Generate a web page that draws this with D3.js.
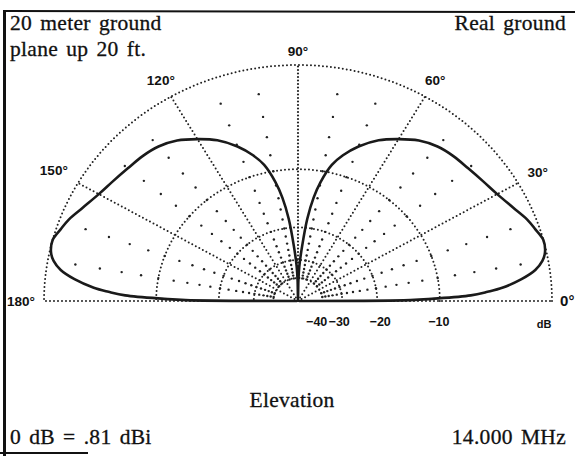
<!DOCTYPE html>
<html lang="en">
<head>
    <meta charset="UTF-8">
    <title>Elevation pattern</title>
    <script src="https://d3js.org/d3.v7.min.js"></script>
    <style>
        body { margin: 0; background: #fff; }
        text { fill: #111; }
    </style>
</head>
<body>
    <svg></svg>
    <script>
        // elevation angle (deg) and relative gain (dB)
        const elevAngles = [0, 0.5, 1, 2, 3, 4, 6, 8, 10, 12, 15, 18, 21, 25, 30, 35, 40, 45, 50, 55, 60, 65, 70, 74, 77, 80, 82, 84, 86, 88, 89, 90];
        const gainDb = [-99, -14, -11, -6.6, -5.0, -3.7, -2.1, -1.0, -0.4, -0.1, 0, -0.3, -0.6, -1.15, -1.7, -2.05, -2.3, -2.45, -2.7, -3.2, -4.0, -4.9, -6.2, -7.6, -9.0, -11.5, -14, -18, -25, -33, -42, -99];

        const ringDb = [0, -10, -20, -30, -40];
        const ringLabels = ["", "-10", "-20", "-30", "-40"];
        const spokeAngles = [0, 30, 60, 90, 120, 150, 180];
        const spokeLabels = ["0°", "30°", "60°", "90°", "120°", "150°", "180°"];

        const width = 575, height = 456;
        const cx = 298, cy = 301;
        const rx = 254, ry = 236;

        const svg = d3.select("svg")
            .attr("width", width)
            .attr("height", height)
            .style("font-family", "'Liberation Sans', Arial, sans-serif");

        // ARRL log scale: each 2 dB step shrinks radius by 0.89
        const logR = d3.scaleLinear().domain([-2, 0]).range([Math.log(0.89), 0]);
        const rad = db => Math.exp(logR(db));
        const x = d3.scaleLinear().domain([-1, 1]).range([cx - rx, cx + rx]);
        const y = d3.scaleLinear().domain([0, 1]).range([cy, cy - ry]);
        const pt = (deg, r) => {
            const a = deg * Math.PI / 180;
            return [x(r * Math.cos(a)), y(r * Math.sin(a))];
        };

        const grid = svg.append("g")
            .attr("fill", "none")
            .attr("stroke", "#222")
            .attr("stroke-linecap", "round");

        // rings
        const arcLine = d3.line();
        ringDb.forEach(db => {
            const r = rad(db);
            grid.append("path")
                .attr("d", arcLine(d3.range(0, 180.5, 1).map(a => pt(a, r))))
                .attr("stroke-width", 2)
                .attr("stroke-dasharray", "0 4");
        });

        // major spokes
        spokeAngles.forEach(a => {
            grid.append("path")
                .attr("d", arcLine([pt(a, 0), pt(a, 1)]))
                .attr("stroke-width", a === 90 ? 2.2 : 2)
                .attr("stroke-dasharray", a === 90 ? "0 3.5" : "0 4");
        });

        // sparse dots: 10 degree spokes x 2 dB steps
        const dotAngles = d3.range(10, 180, 10).filter(a => a % 30 !== 0);
        const dotDb = d3.range(-2, -41, -2);
        const dots = [];
        dotAngles.forEach(a => dotDb.forEach(db => dots.push(pt(a, rad(db)))));
        svg.append("g").selectAll("circle")
            .data(dots)
            .enter()
            .append("circle")
            .attr("cx", d => d[0])
            .attr("cy", d => d[1])
            .attr("r", 1.2)
            .attr("fill", "#222");

        // pattern, mirrored for the other side
        const right = elevAngles.map((a, i) => pt(a, rad(gainDb[i])));
        const left = elevAngles.map((a, i) => pt(180 - a, rad(gainDb[i]))).reverse();
        svg.append("path")
            .attr("d", d3.line().curve(d3.curveCatmullRom)(right.concat(left.slice(1))))
            .attr("fill", "none")
            .attr("stroke", "#1a1a1a")
            .attr("stroke-width", 2.6)
            .attr("stroke-linejoin", "round");

        // angle labels
        const labelR = [1.02, 1.09, 1.08, 1.06, 1.08, 1.11, 1.0];
        spokeAngles.forEach((a, i) => {
            let p = pt(a, labelR[i]);
            let anchor = "middle";
            if (a === 0) { anchor = "start"; p = [p[0] + 3, p[1]]; }
            if (a === 180) { anchor = "end"; p = [p[0] - 9, p[1]]; }
            svg.append("text")
                .attr("x", p[0])
                .attr("y", p[1] + 5)
                .attr("text-anchor", anchor)
                .attr("font-weight", "bold")
                .attr("font-size", a === 0 ? 15 : 13.5)
                .text(spokeLabels[i]);
        });

        // dB labels under baseline
        const dbShift = [0, -1, 3, -3, -6];
        ringDb.forEach((db, i) => {
            if (!ringLabels[i]) return;
            svg.append("text")
                .attr("x", x(rad(db)) + dbShift[i])
                .attr("y", cy + 25)
                .attr("text-anchor", "middle")
                .attr("font-weight", "bold")
                .attr("font-size", 12.5)
                .text(ringLabels[i].replace("-", "\u2212"));
        });
        svg.append("text")
            .attr("x", 544).attr("y", cy + 27)
            .attr("text-anchor", "middle")
            .attr("font-weight", "bold")
            .attr("font-size", 11)
            .text("dB");

        // titles
        const serif = "'Liberation Serif', 'Times New Roman', serif";
        const titles = [
            { t: "20 meter ground", x: 10, y: 30, a: "start" },
            { t: "plane up 20 ft.", x: 10, y: 56, a: "start" },
            { t: "Real ground", x: 566, y: 30, a: "end" },
            { t: "Elevation", x: 292, y: 407, a: "middle" },
            { t: "0 dB = .81 dBi", x: 10, y: 444, a: "start" },
            { t: "14.000 MHz", x: 566, y: 444, a: "end" }
        ];
        svg.selectAll(".title")
            .data(titles)
            .enter()
            .append("text")
            .attr("class", "title")
            .attr("x", d => d.x)
            .attr("y", d => d.y)
            .attr("text-anchor", d => d.a)
            .style("font-family", serif)
            .attr("font-size", 21.5)
            .attr("letter-spacing", 0.3)
            .attr("word-spacing", 2.5)
            .attr("stroke", "#111")
            .attr("stroke-width", 0.3)
            .text(d => d.t);

        // frame
        svg.append("line").attr("x1", 4).attr("x2", 575).attr("y1", 11).attr("y2", 12)
            .attr("stroke", "#111").attr("stroke-width", 2);
        svg.append("line").attr("x1", 4.5).attr("x2", 4.5).attr("y1", 10).attr("y2", 456)
            .attr("stroke", "#111").attr("stroke-width", 3);
        svg.append("line").attr("x1", 0).attr("x2", 88).attr("y1", 453).attr("y2", 453)
            .attr("stroke", "#111").attr("stroke-width", 2);
    </script>
</body>
</html>
